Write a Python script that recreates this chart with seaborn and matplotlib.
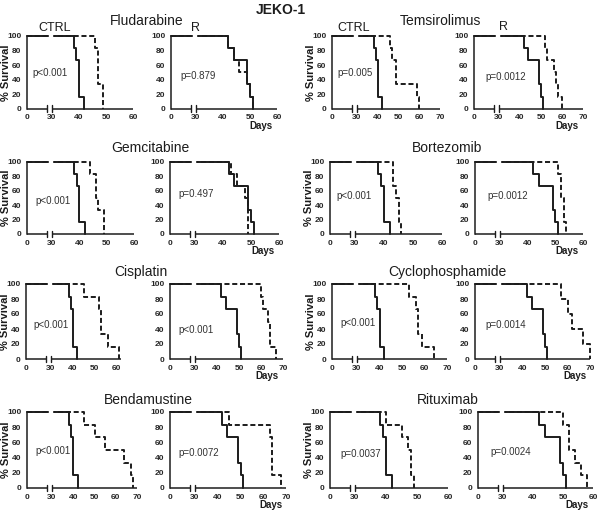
import numpy as np
import pandas as pd
import matplotlib.pyplot as plt
import seaborn as sns

# ---- data (days of death, 6 mice per group unless noted) ----
drugs = ['Fludarabine', 'Temsirolimus', 'Gemcitabine', 'Bortezomib',
         'Cisplatin', 'Cyclophosphamide', 'Bendamustine', 'Rituximab']

ctrl_untreated = [38, 39, 40, 40, 40, 42]      # CTRL line, no drug (solid)
r_untreated = [42, 44, 49, 49, 50, 51]         # R line, no drug (solid)

ctrl_treated = [
    [46, 47, 47, 47, 49, 49],
    [46, 47, 49, 49, 59, 60],
    [44, 46, 46, 47, 49, 49],
    [43, 43, 44, 45, 45, 46],
    [45, 52, 53, 53, 56, 61],
    [53, 56, 57, 57, 59, 64],
    [45, 50, 55, 64, 67, 68],
    [40, 45, 47, 48, 48, 49],
]
r_treated = [
    [42, 44, 46, 49, 50, 51],
    [52, 53, 56, 57, 58, 60],
    [43, 45, 48, 49, 49, 49],
    [51, 52, 52, 53, 53, 54],
    [60, 61, 63, 64, 64, 67],
    [57, 60, 62, 67, 70],
    [45, 63, 64, 64, 64, 68],
    [50, 52, 52, 54, 56, 58],
]
p_ctrl = ['p<0.001', 'p=0.005', 'p<0.001', 'p<0.001',
          'p<0.001', 'p<0.001', 'p<0.001', 'p=0.0037']
p_r = ['p=0.879', 'p=0.0012', 'p=0.497', 'p=0.0012',
       'p<0.001', 'p=0.0014', 'p=0.0072', 'p=0.0024']
xmax_ctrl = [60, 70, 60, 60, 62, 70, 70, 60]
xmax_r = [60, 70, 60, 60, 70, 70, 70, 60]

# ---- layout (pixels in a 600x514 canvas) ----
W_FIG, H_FIG = 600, 514
row_y = [(36, 108.7), (162, 234), (284, 359), (412, 488)]
col_x = [
    [(27, 133), (171, 277), (332, 440), (474, 583)],
    [(27, 134), (170, 279), (330, 442), (475, 583)],
    [(26, 121), (170, 283), (332, 447), (475, 590)],
    [(27, 137), (170, 286), (330, 448), (478, 593)],
]
p_pos = [
    [(5, 49), (9, 45), (5, 49), (11, 44)],
    [(8, 46), (8, 55), (6, 53), (12, 53)],
    [(7, 45), (8, 39), (8, 48), (10, 45)],
    [(8, 49), (8, 46), (10, 45), (12, 48)],
]
title_pos = [(147, 21), (440, 21), (150, 148), (447, 148),
             (141, 272), (447, 272), (148, 400), (448, 400)]
BREAK_PX = 25          # width of the compressed 0-30 segment
INK = '#1c1c1c'

sns.set_theme(style='white')
plt.rcParams['font.family'] = ['Liberation Sans', 'DejaVu Sans']

fig = plt.figure(figsize=(W_FIG / 100, H_FIG / 100), dpi=100)


def fpos(x, y):
    return x / W_FIG, 1 - y / H_FIG


def km_steps(days):
    days = np.sort(np.asarray(days, dtype=float))
    n = len(days)
    t = np.unique(days)
    surv = [100 * (1 - np.sum(days <= ti) / n) for ti in t]
    return np.r_[0, t], np.r_[100, surv]


def panel(box, ybox, treated, untreated, xmax, ptxt, ppos, ylabel, days_label):
    (x0, x1), (ytop, ybot) = box, ybox
    w, h = x1 - x0, ybot - ytop
    l, b = fpos(x0, ybot)
    ax = fig.add_axes([l, b, w / W_FIG, h / H_FIG])
    s = BREAK_PX / (w - BREAK_PX) * (xmax - 30)

    def fwd(x):
        x = np.asarray(x, dtype=float)
        return np.where(x < 30, x * s / 30, s + (x - 30))

    def inv(u):
        u = np.asarray(u, dtype=float)
        return np.where(u < s, u * 30 / s, u - s + 30)

    ax.set_xscale('function', functions=(fwd, inv))

    frames = []
    for grp, d in (('drug', treated), ('ctrl', untreated)):
        x, y = km_steps(d)
        frames.append(pd.DataFrame({'day': x, 'surv': y, 'group': grp}))
    df = pd.concat(frames, ignore_index=True)
    sns.lineplot(data=df, x='day', y='surv', style='group',
                 style_order=['drug', 'ctrl'],
                 dashes={'drug': (2.6, 1.4), 'ctrl': ''},
                 color=INK, lw=1.4, drawstyle='steps-post',
                 estimator=None, legend=False, ax=ax, clip_on=False)

    ax.set_xlim(0, xmax)
    ax.set_ylim(0, 100)
    ax.set_xticks([0] + list(range(30, xmax + 1, 10)))
    ax.set_yticks(range(0, 101, 20))
    ax.tick_params(axis='both', direction='out', length=3, width=1.0,
                   color=INK, pad=1, labelsize=6)
    for lab in ax.get_xticklabels() + ax.get_yticklabels():
        lab.set_fontweight('bold')
    ax.set_xlabel('')
    ax.set_ylabel('')
    for sp in ('top', 'right', 'bottom'):
        ax.spines[sp].set_visible(False)
    ax.spines['left'].set_color(INK)
    ax.spines['left'].set_linewidth(1.1)

    # broken x axis
    brk = 0.79 * 30
    ax.axvspan(26.3, 29.6, ymin=0.94, ymax=1.03, color='white', zorder=4,
               clip_on=False)
    tr = ax.get_xaxis_transform()
    ax.plot([0, brk], [0, 0], color=INK, lw=1.1, transform=tr,
            clip_on=False, zorder=5, solid_capstyle='butt')
    ax.plot([30, xmax], [0, 0], color=INK, lw=1.1, transform=tr,
            clip_on=False, zorder=5, solid_capstyle='butt')
    for xb in (brk, 30):
        ax.plot([xb, xb], [-0.045, 0.045], color=INK, lw=1.0, transform=tr,
                clip_on=False, zorder=5)

    ax.text(ppos[0] / w, ppos[1] / 100, ptxt, transform=ax.transAxes,
            ha='left', va='center', fontsize=7, color='#333333', zorder=6)
    if ylabel:
        ax.text(-20.5 / w, 0.5, '% Survival', transform=ax.transAxes,
                rotation=90, ha='center', va='center', fontsize=8,
                fontweight='bold', color=INK)
    if days_label:
        ax.text(1 - 4 / w, -17 / h, 'Days', transform=ax.transAxes,
                ha='right', va='center', fontsize=7, fontweight='bold',
                color=INK)
    return ax


for i, drug in enumerate(drugs):
    r, c = i // 2, 2 * (i % 2)
    panel(col_x[r][c], row_y[r], ctrl_treated[i], ctrl_untreated,
          xmax_ctrl[i], p_ctrl[i], p_pos[r][c], True, False)
    panel(col_x[r][c + 1], row_y[r], r_treated[i], r_untreated,
          xmax_r[i], p_r[i], p_pos[r][c + 1], False, True)
    tx, ty = fpos(*title_pos[i])
    fig.text(tx, ty, drug, ha='center', va='center', fontsize=10, color=INK)

for lab, (x, y) in zip(['CTRL', 'R', 'CTRL', 'R'],
                       [(55, 28), (195, 28), (354, 28), (504, 27)]):
    tx, ty = fpos(x, y)
    fig.text(tx, ty, lab, ha='center', va='center', fontsize=9, color=INK)

tx, ty = fpos(281, 10)
fig.text(tx, ty, 'JEKO-1', ha='center', va='center', fontsize=10,
         fontweight='bold', color=INK)

fig.savefig('out.png', dpi=100, facecolor='white')
